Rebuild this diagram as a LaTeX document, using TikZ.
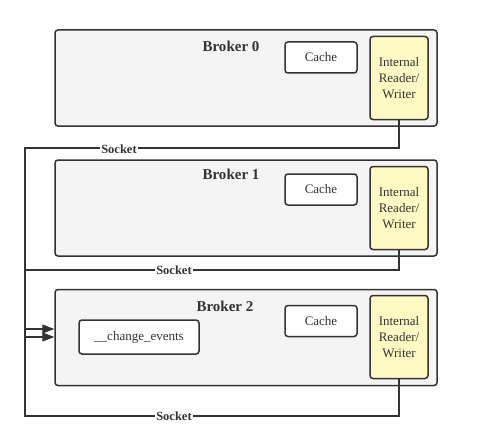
\documentclass[tikz,border=0pt]{standalone}
\usepackage{fontspec}
\setmainfont{Liberation Serif}
\usetikzlibrary{arrows.meta}
\definecolor{ink}{HTML}{333333}
\definecolor{brokerfill}{HTML}{F4F4F4}
\definecolor{rwfill}{HTML}{FFF9C4}
\tikzset{
  broker/.style={draw=ink, line width=1.5pt, fill=brokerfill, rounded corners=3pt,
    minimum width=382pt, minimum height=96pt},
  title/.style={text=ink, font=\fontsize{15}{17}\selectfont\bfseries},
  cachebox/.style={draw=ink, line width=1.5pt, fill=white, rounded corners=3pt,
    minimum width=72pt, minimum height=31pt, text=ink, font=\fontsize{13}{15}\selectfont},
  rwbox/.style={draw=ink, line width=1.5pt, fill=rwfill, rounded corners=3pt,
    minimum width=58pt, minimum height=83pt, align=center, text=ink,
    font=\fontsize{13}{15.7}\selectfont},
  socket/.style={draw=ink, line width=1.3pt},
  socketlabel/.style={fill=white, inner sep=1pt, text=ink, font=\fontsize{12.5}{14}\selectfont\bfseries}
}
\begin{document}
\begin{tikzpicture}[x=1pt, y=-1pt]
  \useasboundingbox (0,0) rectangle (486,441);

  % Broker 0
  \node[broker] (broker0) at (246,78) {};
  \node[title] (title0) at (231,46) {Broker 0};
  \node[cachebox] (cache0) at (321,57.5) {Cache};
  \node[rwbox] (rw0) at (399,78) {Internal\\Reader/\\Writer};

  % Broker 1
  \node[broker] (broker1) at (246,208) {};
  \node[title] (title1) at (231,174) {Broker 1};
  \node[cachebox] (cache1) at (321,189.5) {Cache};
  \node[rwbox] (rw1) at (399,208) {Internal\\Reader/\\Writer};

  % Broker 2
  \node[broker] (broker2) at (246,337.5) {};
  \node[title] (title2) at (225,306) {Broker 2};
  \node[cachebox] (cache2) at (321,321) {Cache};
  \node[rwbox] (rw2) at (399,337) {Internal\\Reader/\\Writer};
  \node[cachebox, minimum width=120pt, minimum height=34pt] (events) at (139,337) {\_\_change\_events};

  % Sockets back to the topic
  \coordinate (left0) at (25,148);
  \coordinate (left1) at (25,270);
  \coordinate (left2) at (25,416);
  \draw[socket, -{Triangle[length=12pt,width=9pt]}] (rw0.south) |- (left0) -- (25,329) -- (broker2.west |- 0,329);
  \draw[socket, -{Triangle[length=12pt,width=9pt]}] (rw1.south) |- (left1) -- (25,337) -- (broker2.west |- 0,337);
  \draw[socket] (rw2.south) |- (left2) -- (25,337);

  \node[socketlabel] (sock0) at (119,149) {Socket};
  \node[socketlabel] (sock1) at (174,270) {Socket};
  \node[socketlabel] (sock2) at (174,416) {Socket};
\end{tikzpicture}
\end{document}
